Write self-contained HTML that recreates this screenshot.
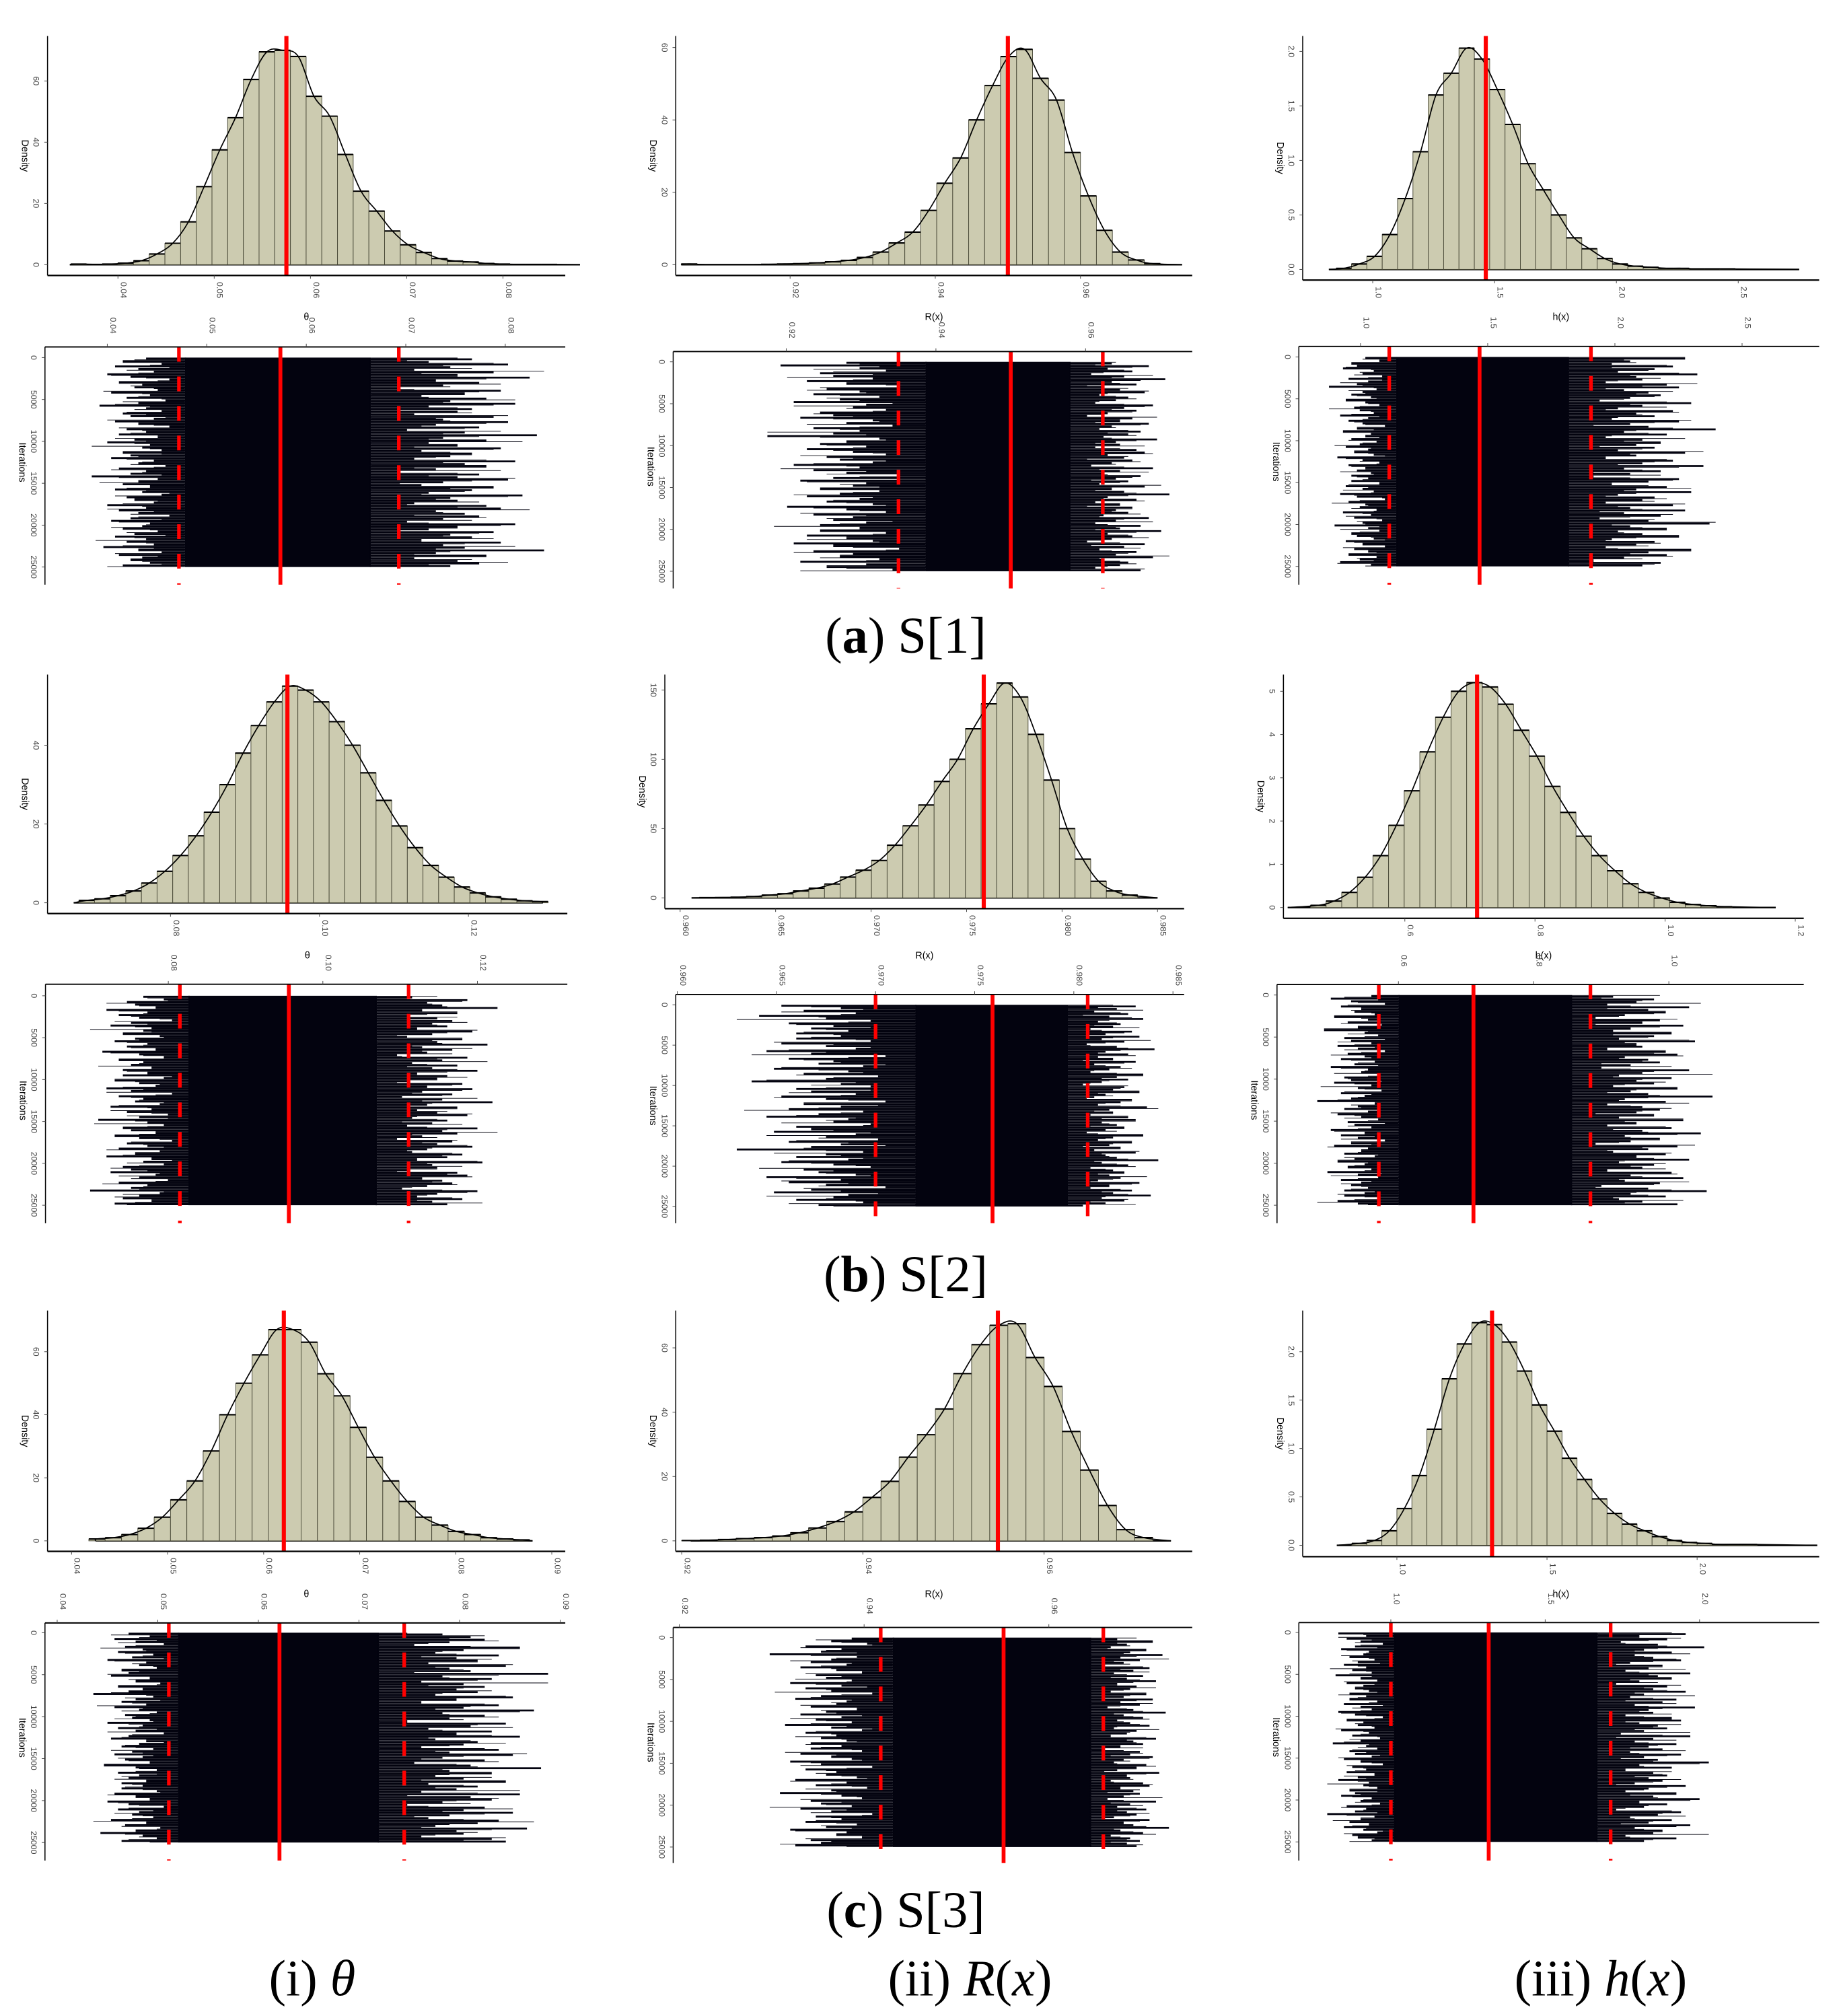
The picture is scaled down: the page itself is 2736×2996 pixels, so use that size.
<!DOCTYPE html>
<html><head><meta charset="utf-8"><title>Posterior histograms and trace plots</title>
<style>
html,body{margin:0;padding:0;background:#fff;}
svg{display:block;}
.tk{font-family:"Liberation Sans",sans-serif;font-size:6.5px;fill:#444;}
.al{font-family:"Liberation Sans",sans-serif;font-size:7.5px;fill:#000;}
.cap{font-family:"Liberation Serif","DejaVu Serif",serif;font-size:40px;fill:#000;}
</style></head>
<body>
<svg id="fig" xmlns="http://www.w3.org/2000/svg" width="2736" height="2996" viewBox="0 0 1433 1569" preserveAspectRatio="none">
<g id="plots"></g>
<text class="cap" x="705" y="508" text-anchor="middle">(<tspan font-weight="bold">a</tspan>) S[1]</text>
<text class="cap" x="705" y="1005" text-anchor="middle">(<tspan font-weight="bold">b</tspan>) S[2]</text>
<text class="cap" x="705" y="1500" text-anchor="middle">(<tspan font-weight="bold">c</tspan>) S[3]</text>
<text class="cap" x="243" y="1553" text-anchor="middle">(i) <tspan font-style="italic">θ</tspan></text>
<text class="cap" x="755" y="1553" text-anchor="middle">(ii) <tspan font-style="italic">R</tspan>(<tspan font-style="italic">x</tspan>)</text>
<text class="cap" x="1246" y="1553" text-anchor="middle">(iii) <tspan font-style="italic">h</tspan>(<tspan font-style="italic">x</tspan>)</text>
</svg>
<script>
// ---- histogram data (densities per bin), bin start and width ----
const histA1 = [0.2,0.1,0.2,0.5,1.3,3.5,7,14,25.5,37.5,48,60.5,69.5,70,68,55,48.5,36,24,17.5,11,6.5,4,2,1.2,0.9,0.4,0.2,0.1,0.1,0.1];
const binA1 = [0.0351, 0.00163];
const histA2 = [0.2,0,0,0,0,0.1,0.2,0.3,0.5,0.8,1.2,2,3.5,6,9,15,22.5,29.5,40,49.5,57.5,59.5,51.5,45.5,31,19,9.5,3.5,1.3,0.3];
const binA2 = [0.905, 0.0022];
const histA3 = [0.01,0.05,0.12,0.32,0.65,1.08,1.6,1.8,2.03,1.93,1.65,1.33,0.97,0.73,0.5,0.29,0.19,0.1,0.05,0.03,0.02,0.01,0.01,0.005,0.005,0.005];
const binA3 = [0.85, 0.063];
const histB1 = [0.2,0.4,0.6,1.0,1.8,3,5,8,12,17,23,30,38,45,51,55,54,51,46,40,33,26,19.5,14,9.5,6.5,4,2.5,1.5,0.9,0.5,0.3];
const binB1 = [0.0635, 0.0021];
const histB2 = [0.2,0.3,0.5,1,2,3,5,7,10,15,20,27,38,52,67,84,100,122,140,155,145,118,85,50,28,12,5,2];
const binB2 = [0.961, 0.00082];
const histB3 = [0.05,0.15,0.35,0.7,1.2,1.9,2.7,3.6,4.4,5.0,5.2,5.1,4.7,4.1,3.5,2.8,2.2,1.65,1.2,0.85,0.55,0.35,0.22,0.12,0.07,0.04,0.02];
const binB3 = [0.455, 0.024];
const histC1 = [0.3,0.6,1,2,4,7.5,13,19,28.5,40,50,59,67,67,63,53,46,36,26.5,19,12.5,7.5,5,3,2,1,0.6,0.3];
const binC1 = [0.0401, 0.0017];
const histC2 = [0.1,0.2,0.4,0.7,1,1.5,2.5,4,6,9,13.5,18.5,26,33,41,52,61,67,67.5,57,48,34,22,11,3.5,1];
const binC2 = [0.92, 0.002];
const histC3 = [0.02,0.05,0.15,0.38,0.72,1.2,1.72,2.08,2.3,2.28,2.1,1.8,1.45,1.18,0.9,0.68,0.48,0.33,0.22,0.15,0.09,0.05,0.03,0.02,0.01,0.01,0.01];
const binC3 = [0.85, 0.05];
// density support range
const rangeA1=[0.035,0.088], rangeA2=[0.905,0.974], rangeA3=[0.82,2.75];
const rangeB1=[0.067,0.130], rangeB2=[0.9606,0.985], rangeB3=[0.42,1.17];
const rangeC1=[0.0425,0.088], rangeC2=[0.921,0.974], rangeC3=[0.8,2.4];
// posterior mean and 95% interval (red lines)
const meanHist = [0.0575,0.950,1.464, 0.0957,0.9759,0.711, 0.0621,0.9549,1.317];
const meanTrace = [0.0574,0.950,1.468, 0.0956,0.9759,0.711, 0.0621,0.9551,1.317];
const ciLow = [0.0472,0.935,1.113, 0.0815,0.970,0.571, 0.0511,0.9418,1.0];
const ciHigh = [0.0693,0.9623,1.906, 0.1111,0.9807,0.884, 0.0745,0.9659,1.712];
// trace bulk (dense core) and outer spread
const coreLow = [0.0478,0.9386,1.14, 0.0826,0.972,0.60, 0.052,0.9431,1.01];
const coreHigh = [0.0665,0.958,1.82, 0.107,0.9797,0.857, 0.072,0.9646,1.67];
const outerLow = [0.040,0.921,0.92, 0.072,0.9645,0.50, 0.045,0.932,0.83];
const outerHigh = [0.081,0.969,2.30, 0.120,0.9835,1.03, 0.086,0.9716,1.97];
// trace excursion magnitudes (fraction of outer spread)
const jitterL = [0.5,0.8,0.3,0.9,0.6,0.4,1.0,0.7,0.2,0.85,0.55,0.65,0.35,0.95,0.45,0.75,0.25,0.6,1.1,0.5,0.3,0.8,0.7,0.4,0.9,0.6,0.2,0.75,0.5,0.85,0.35,0.65,1.0,0.45,0.55,0.3,0.8,0.7,0.95,0.4,0.6,0.25,0.85,0.5,0.7,1.2,0.35,0.6,0.8,0.45,0.9,0.55,0.3,0.75,0.65,0.4,1.0,0.5,0.85,0.6,0.2,0.7,0.95,0.45,0.55,0.8,0.35,0.65,0.9,0.5,0.75,0.4,1.05,0.6,0.3,0.85,0.55,0.7,0.45,0.8];
const jitterR = [0.7,0.4,0.95,0.55,0.3,0.85,0.6,1.1,0.45,0.75,0.5,0.2,0.9,0.65,0.35,0.8,0.55,1.0,0.4,0.7,0.6,0.3,0.85,0.5,0.95,0.45,0.75,0.25,0.65,1.15,0.5,0.8,0.4,0.6,0.9,0.35,0.7,0.55,0.3,1.0,0.65,0.8,0.45,0.2,0.75,0.6,0.95,0.5,0.35,0.85,0.7,0.4,1.05,0.55,0.6,0.3,0.8,0.9,0.45,0.65,0.75,0.5,0.25,1.0,0.6,0.4,0.85,0.55,0.7,0.35,0.9,0.5,0.65,1.2,0.45,0.8,0.3,0.6,0.75,0.55];
// tick labels
const xtA1=['0.04','0.05','0.06','0.07','0.08'], xtA2=['0.92','0.94','0.96'], xtA3=['1.0','1.5','2.0','2.5'];
const xtB1=['0.08','0.10','0.12'], xtB2=['0.960','0.965','0.970','0.975','0.980','0.985'], xtB3=['0.6','0.8','1.0','1.2'], xtB3t=['0.6','0.8','1.0'];
const xtC1=['0.04','0.05','0.06','0.07','0.08','0.09'], xtC2=['0.92','0.94','0.96'], xtC3=['1.0','1.5','2.0'];
const ytA1=['0','20','40','60'], ytA2=['0','20','40','60'], ytA3=['0.0','0.5','1.0','1.5','2.0'];
const ytB1=['0','20','40'], ytB2=['0','50','100','150'], ytB3=['0','1','2','3','4','5'];
const ytC1=['0','20','40','60'], ytC2=['0','20','40','60'], ytC3=['0.0','0.5','1.0','1.5','2.0'];
const iterTicks=['0','5000','10000','15000','20000','25000'];
const xTitles=['θ','R(x)','h(x)'];

// ---- layout (pixel calibration per panel) ----
const layout = [
 {h:{L:37,R:440,top:28,ax:214.4,xv:[0.04,0.08],xp:[91.8,391.5],yv:[0,60],yp:[206,63]},
  t:{L:35,R:440,top:270,bot:455,xv:[0.04,0.08],xp:[83.5,393.3],iy:[278.3,441.3]},title:246},
 {h:{L:526,R:928,top:28,ax:214.4,xv:[0.92,0.96],xp:[615,841],yv:[0,60],yp:[206,37]},
  t:{L:524,R:928,top:273.6,bot:458,xv:[0.92,0.96],xp:[612,845],iy:[281.6,444.6]},title:246},
 {h:{L:1014,R:1416,top:28,ax:218,xv:[1.0,2.5],xp:[1068.5,1353],yv:[0,2],yp:[209.7,40]},
  t:{L:1011,R:1416,top:269.6,bot:455,xv:[1.0,2.5],xp:[1059,1356],iy:[277.8,440.8]},title:246},
 {h:{L:37,R:441.6,top:525,ax:711,xv:[0.08,0.12],xp:[132.7,364.6],yv:[0,40],yp:[702.6,580]},
  t:{L:35.4,R:441.6,top:766,bot:952,xv:[0.08,0.12],xp:[131,371.6],iy:[775,938]},title:743},
 {h:{L:517.5,R:921.7,top:525,ax:707.2,xv:[0.96,0.985],xp:[529.4,901],yv:[0,150],yp:[698.8,537]},
  t:{L:526,R:921.7,top:774,bot:952,xv:[0.96,0.985],xp:[527.2,913],iy:[782,939]},title:743},
 {h:{L:999,R:1404,top:525,ax:714.7,xv:[0.6,1.2],xp:[1093.5,1397.4],yv:[0,5],yp:[706.3,538]},
  t:{L:994,R:1404,top:766.2,bot:952,xv:[0.6,1.0],xp:[1088.5,1299],iy:[774.4,938]},title:743},
 {h:{L:37,R:440,top:1020,ax:1207.4,xv:[0.04,0.09],xp:[55.7,429.5],yv:[0,60],yp:[1199.2,1052]},
  t:{L:35,R:440,top:1263.1,bot:1448,xv:[0.04,0.09],xp:[44.5,436],iy:[1270.7,1434]},title:1240},
 {h:{L:526,R:928,top:1020,ax:1207.4,xv:[0.92,0.96],xp:[530.6,812.7],yv:[0,60],yp:[1199.2,1049]},
  t:{L:524,R:928,top:1266.6,bot:1450,xv:[0.92,0.96],xp:[528.8,816.4],iy:[1274.5,1437.5]},title:1240},
 {h:{L:1014,R:1416,top:1020,ax:1211.5,xv:[1.0,2.0],xp:[1087.3,1321],yv:[0,2],yp:[1202.7,1052]},
  t:{L:1011,R:1416,top:1262.8,bot:1448,xv:[1.0,2.0],xp:[1082.6,1322.9],iy:[1270.5,1433.5]},title:1240}
];
const hists=[histA1,histA2,histA3,histB1,histB2,histB3,histC1,histC2,histC3];
const bins=[binA1,binA2,binA3,binB1,binB2,binB3,binC1,binC2,binC3];
const ranges=[rangeA1,rangeA2,rangeA3,rangeB1,rangeB2,rangeB3,rangeC1,rangeC2,rangeC3];
const hx=[xtA1,xtA2,xtA3,xtB1,xtB2,xtB3,xtC1,xtC2,xtC3];
const tx=[xtA1,xtA2,xtA3,xtB1,xtB2,xtB3t,xtC1,xtC2,xtC3];
const hy=[ytA1,ytA2,ytA3,ytB1,ytB2,ytB3,ytC1,ytC2,ytC3];

const NS='http://www.w3.org/2000/svg';
const root=document.getElementById('plots');
function mk(tag,attrs,parent){const e=document.createElementNS(NS,tag);for(const k in attrs)e.setAttribute(k,attrs[k]);(parent||root).appendChild(e);return e;}
function lin(v,p){return x=>p[0]+(x-v[0])*(p[1]-p[0])/(v[1]-v[0]);}
function rotText(g,x,y,str,cls,anchor){const t=mk('text',{x:0,y:0,'class':cls,'text-anchor':anchor||'middle',transform:`translate(${x},${y}) rotate(90)`},g);t.textContent=str;return t;}

layout.forEach((P,k)=>{
  const g=mk('g',{});
  
  
  // ---- histogram ----
  const H=P.h, X=lin(H.xv,H.xp), Y=lin(H.yv,H.yp);
  const hg=mk('g',{},g);
  
  
  const hs=hists[k], b=bins[k], rg=ranges[k];
  mk('line',{x1:X(rg[0]),x2:X(rg[1]),y1:Y(0),y2:Y(0),stroke:'#000','stroke-width':1.2},hg);
  hs.forEach((v,i)=>{
    const c=b[0]+(i+0.5)*b[1];
    if(c<rg[0]||c>rg[1])return;
    const x0=X(b[0]+i*b[1]), x1=X(b[0]+(i+1)*b[1]);
    const r=mk('rect',{x:x0,y:Y(v),width:x1-x0,height:Y(0)-Y(v),fill:'#cccbb0',stroke:'#4a4a38','stroke-width':0.5},hg);
    
    
    const o=mk('path',{d:`M${x0},${Y(v)}H${x1}`,stroke:'#000','stroke-width':1.1,fill:'none'},hg);
    
    
  });
  const pts=[[X(rg[0]),Y(0)]];
  hs.forEach((v,i)=>{const c=b[0]+(i+0.5)*b[1];if(c>rg[0]&&c<rg[1])pts.push([X(c),Y(v)]);});
  pts.push([X(rg[1]),Y(0)]);
  let d=`M${pts[0][0]},${pts[0][1]}`;
  for(let i=0;i<pts.length-1;i++){const p0=pts[Math.max(0,i-1)],p1=pts[i],p2=pts[i+1],p3=pts[Math.min(pts.length-1,i+2)];
    d+=`C${p1[0]+(p2[0]-p0[0])/6},${p1[1]+(p2[1]-p0[1])/6} ${p2[0]-(p3[0]-p1[0])/6},${p2[1]-(p3[1]-p1[1])/6} ${p2[0]},${p2[1]}`;}
  const dc=mk('path',{d:d,fill:'none',stroke:'#000','stroke-width':0.9},hg);
  
  
  const ml=mk('line',{x1:X(meanHist[k]),x2:X(meanHist[k]),y1:H.top,y2:H.ax,stroke:'#ff0000','stroke-width':3.2},hg);
  
  
  mk('line',{x1:H.L,x2:H.L,y1:H.top,y2:H.ax,stroke:'#000','stroke-width':0.8},hg);
  mk('line',{x1:H.L,x2:H.R,y1:H.ax,y2:H.ax,stroke:'#000','stroke-width':1.2},hg);
  hx[k].forEach(s=>{const x=X(parseFloat(s));mk('line',{x1:x,x2:x,y1:H.ax,y2:H.ax+2.5,stroke:'#444','stroke-width':0.5},hg);rotText(hg,x+2.3,H.ax+5,s,'tk','start');});
  hy[k].forEach(s=>{const y=Y(parseFloat(s));mk('line',{x1:H.L-2.5,x2:H.L,y1:y,y2:y,stroke:'#444','stroke-width':0.5},hg);rotText(hg,H.L-11,y,s,'tk','middle');});
  const dl=rotText(hg,H.L-20,(H.top+H.ax)/2,'Density','al','middle');
  
  
  const xt=mk('text',{x:(H.L+H.R)/2,y:P.title+3,'class':'al','text-anchor':'middle'},hg);
  xt.textContent=xTitles[k%3];
  
  

  // ---- trace ----
  const T=P.t, TX=lin(T.xv,T.xp), TY=lin([0,25000],T.iy);
  const tg=mk('g',{},g);
  
  
  const n=jitterL.length, y0=TY(0), y1=TY(25000), rh=(y1-y0)/n;
  const cl=TX(coreLow[k]), ch=TX(coreHigh[k]);
  mk('rect',{x:cl,y:y0,width:ch-cl,height:y1-y0,fill:'#03030f'},tg);
  for(let i=0;i<n;i++){
    const jl=jitterL[(i+k*17)%n], jr=jitterR[(i+k*23)%n];
    const xl=TX(coreLow[k]-jl*(coreLow[k]-outerLow[k]));
    const xr=TX(coreHigh[k]+jr*(outerHigh[k]-coreHigh[k]));
    const yy=y0+i*rh;
    const s1=mk('rect',{x:xl,y:yy,width:cl-xl+1,height:rh*0.75,fill:'#03030f'},tg);
    
    
    const s2=mk('rect',{x:ch-1,y:yy+rh*0.3,width:xr-ch+1,height:rh*0.7,fill:'#03030f'},tg);
    
    
    const jl2=jitterR[(i+k*7+40)%n], jr2=jitterL[(i+k*11+40)%n];
    mk('line',{x1:TX(coreLow[k]-jl2*(coreLow[k]-outerLow[k])),x2:cl,y1:yy+rh*0.85,y2:yy+rh*0.85,stroke:'#03030f','stroke-width':0.5},tg);
    mk('line',{x1:ch,x2:TX(coreHigh[k]+jr2*(outerHigh[k]-coreHigh[k])),y1:yy+rh*0.15,y2:yy+rh*0.15,stroke:'#03030f','stroke-width':0.5},tg);
  }
  const sm=mk('line',{x1:TX(meanTrace[k]),x2:TX(meanTrace[k]),y1:T.top,y2:T.bot,stroke:'#ff0000','stroke-width':3},tg);
  
  
  [ciLow[k],ciHigh[k]].forEach(v=>{
    const c=mk('line',{x1:TX(v),x2:TX(v),y1:T.top,y2:T.bot,stroke:'#ff0000','stroke-width':2.8,'stroke-dasharray':'11.5,11.5'},tg);
    
    
  });
  mk('line',{x1:T.L,x2:T.R,y1:T.top,y2:T.top,stroke:'#000','stroke-width':1},tg);
  mk('line',{x1:T.L,x2:T.L,y1:T.top,y2:T.bot,stroke:'#000','stroke-width':0.8},tg);
  tx[k].forEach(s=>{const x=TX(parseFloat(s));mk('line',{x1:x,x2:x,y1:T.top-2.5,y2:T.top,stroke:'#444','stroke-width':0.5},tg);rotText(tg,x+2.3,T.top-23,s,'tk','start');});
  iterTicks.forEach(s=>{const y=TY(parseFloat(s));mk('line',{x1:T.L-2.5,x2:T.L,y1:y,y2:y,stroke:'#444','stroke-width':0.5},tg);rotText(tg,T.L-11,y,s,'tk','middle');});
  const il=rotText(tg,T.L-20,(y0+y1)/2,'Iterations','al','middle');
  
  
});
</script>
</body></html>
